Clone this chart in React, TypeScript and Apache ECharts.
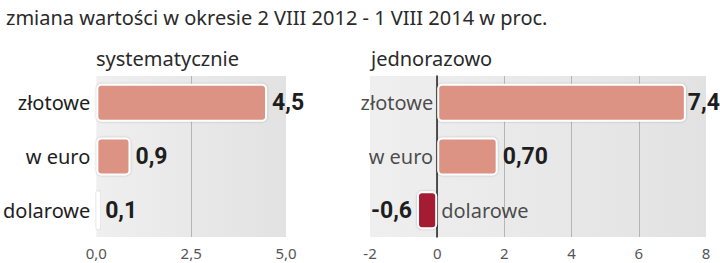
import React, { useEffect, useRef } from "react";
import * as echarts from "echarts";

const titleText = "zmiana wartości w okresie 2 VIII 2012 - 1 VIII 2014 w proc.";
const leftSubtitle = "systematycznie";
const rightSubtitle = "jednorazowo";
const categories = ["złotowe", "w euro", "dolarowe"];
const leftValues = [4.5, 0.9, 0.1];
const leftLabels = ["4,5", "0,9", "0,1"];
const rightValues = [7.4, 1.8, -0.6];
const rightLabels = ["7,4", "0,70", "-0,6"];
const leftTicks = { min: 0, max: 5, interval: 2.5 };
const rightTicks = { min: -2, max: 8, interval: 2 };

const BAR = "#dc9383";
const NEG = "#a51b30";
const TXT = "#1e1e1e";
const FONT = "'Noto Sans', 'Open Sans', sans-serif";
const NUMFONT = "Roboto, sans-serif";

export default function App() {
  const ref = useRef<HTMLDivElement>(null);
  useEffect(() => {
    if (!ref.current) return;
    const chart = echarts.init(ref.current, null, { renderer: "svg" });
    const bg = new echarts.graphic.LinearGradient(0, 0, 1, 0, [
      { offset: 0, color: "#efefef" },
      { offset: 1, color: "#e2e2e2" },
    ]);
    const bg2 = new echarts.graphic.LinearGradient(0, 0, 1, 0, [
      { offset: 0, color: "#efefef" },
      { offset: 1, color: "#e2e2e2" },
    ]);
    const itemBase = {
      borderColor: "#ffffff",
      borderWidth: 2,
      borderRadius: 4,
      shadowColor: "rgba(0,0,0,0.25)",
      shadowBlur: 2,
    };
    const valueLabel = {
      show: true,
      fontFamily: NUMFONT,
      fontWeight: "bold" as const,
      fontSize: 23,
      color: TXT,
      distance: 5,
    };
    chart.setOption({
      animation: false,
      title: [
        {
          text: titleText,
          left: 1,
          top: 2,
          textStyle: { fontFamily: FONT, fontWeight: "normal", fontSize: 20, color: "#2a2a2a" },
        },
        {
          text: leftSubtitle,
          left: 91,
          top: 43,
          textStyle: { fontFamily: FONT, fontWeight: "normal", fontSize: 20, color: "#2a2a2a" },
        },
        {
          text: rightSubtitle,
          left: 366,
          top: 43,
          textStyle: { fontFamily: FONT, fontWeight: "normal", fontSize: 20, color: "#2a2a2a" },
        },
      ],
      grid: [
        {
          left: 93,
          width: 193,
          top: 76,
          bottom: 26,
          show: true,
          borderWidth: 0,
          backgroundColor: bg,
        },
        {
          left: 370,
          right: 14,
          top: 76,
          bottom: 26,
          show: true,
          borderWidth: 0,
          backgroundColor: bg2,
        },
      ],
      xAxis: [
        {
          type: "value",
          gridIndex: 0,
          min: leftTicks.min,
          max: leftTicks.max,
          interval: leftTicks.interval,
          axisLine: { show: false },
          axisTick: { show: false },
          splitLine: {
            show: true,
            showMinLine: false,
            showMaxLine: false,
            lineStyle: { color: "#b5b5b5", width: 1 },
          },
          axisLabel: {
            margin: 8,
            fontFamily: FONT,
            fontSize: 15,
            color: "#555",
            formatter: (v: number) => v.toFixed(1).replace(".", ","),
          },
        },
        {
          type: "value",
          gridIndex: 1,
          min: rightTicks.min,
          max: rightTicks.max,
          interval: rightTicks.interval,
          axisLine: { show: false },
          axisTick: { show: false },
          splitLine: {
            show: true,
            showMinLine: false,
            showMaxLine: false,
            lineStyle: { color: "#b5b5b5", width: 1 },
          },
          axisLabel: {
            margin: 8,
            fontFamily: FONT,
            fontSize: 15,
            color: "#555",
            formatter: (v: number) => String(v),
          },
        },
      ],
      yAxis: [
        {
          type: "category",
          gridIndex: 0,
          data: categories,
          inverse: true,
          axisLine: { show: false },
          axisTick: { show: false },
          axisLabel: {
            margin: 6,
            fontFamily: FONT,
            fontSize: 20,
            color: TXT,
          },
        },
        {
          type: "category",
          gridIndex: 1,
          data: categories,
          inverse: true,
          axisLine: { show: true, onZero: true, lineStyle: { color: "#222", width: 1.5 } },
          axisTick: { show: false },
          axisLabel: { show: false },
        },
      ],
      series: [
        {
          type: "bar",
          xAxisIndex: 0,
          yAxisIndex: 0,
          barWidth: 38,
          data: leftValues.map((v) => ({ value: v, itemStyle: { ...itemBase, color: v < 0 ? NEG : BAR } })),
          label: {
            ...valueLabel,
            position: "right",
            formatter: (p: any) => leftLabels[p.dataIndex],
          },
        },
        {
          type: "bar",
          xAxisIndex: 1,
          yAxisIndex: 1,
          barWidth: 38,
          data: rightValues.map((v, i) => ({
            value: v,
            itemStyle: { ...itemBase, color: v < 0 ? NEG : BAR },
            label: { position: v < 0 ? "left" : "right", distance: i === 0 ? 2 : 5 },
          })),
          label: {
            ...valueLabel,
            formatter: (p: any) => rightLabels[p.dataIndex],
          },
        },
        {
          type: "scatter",
          xAxisIndex: 1,
          yAxisIndex: 1,
          symbolSize: 0,
          silent: true,
          data: categories.map((c, i) => ({
            value: [0, c],
            label: { position: rightValues[i] < 0 ? "right" : "left" },
          })),
          label: {
            show: true,
            distance: 4,
            fontFamily: FONT,
            fontSize: 20,
            color: TXT,
            formatter: (p: any) => categories[p.dataIndex],
          },
        },
      ],
    });
    return () => chart.dispose();
  }, []);
  return (
    <div
      ref={ref}
      style={{ position: "fixed", left: 0, top: 0, width: 720, height: 263, background: "#fff" }}
    />
  );
}
